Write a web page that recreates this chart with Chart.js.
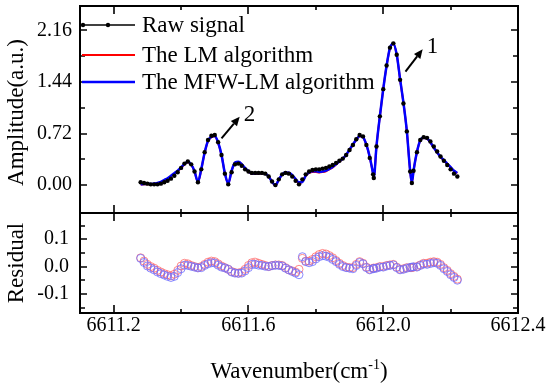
<!DOCTYPE html>
<html><head><meta charset="utf-8">
<script src="https://cdn.jsdelivr.net/npm/chart.js@4/dist/chart.umd.min.js"></script>
<style>
html,body{margin:0;padding:0;background:#fff;}
#wrap{position:relative;width:550px;height:387px;}
canvas{position:absolute;left:0;top:0;}
</style>
</head><body>
<div id="wrap"><canvas id="topChart" width="550" height="387"></canvas><canvas id="botChart" width="550" height="387"></canvas></div>
<script>
const wavenumber = [6611.28,6611.29,6611.30,6611.31,6611.32,6611.33,6611.34,6611.35,6611.36,6611.37,
6611.38,6611.39,6611.40,6611.41,6611.42,6611.43,6611.44,6611.45,6611.46,6611.47,
6611.48,6611.49,6611.50,6611.51,6611.52,6611.53,6611.54,6611.55,6611.56,6611.57,
6611.58,6611.59,6611.60,6611.61,6611.62,6611.63,6611.64,6611.65,6611.66,6611.67,
6611.68,6611.69,6611.70,6611.71,6611.72,6611.73,6611.74,6611.75,6611.76,6611.77,
6611.78,6611.79,6611.80,6611.81,6611.82,6611.83,6611.84,6611.85,6611.86,6611.87,
6611.88,6611.89,6611.90,6611.91,6611.92,6611.93,6611.94,6611.95,6611.96,6611.97,
6611.972,6611.98,6611.99,6612.00,6612.01,6612.02,6612.03,6612.04,6612.05,6612.06,
6612.07,6612.08,6612.085,6612.09,6612.10,6612.11,6612.12,6612.13,6612.14,6612.15,
6612.16,6612.17,6612.18,6612.19,6612.20,6612.21,6612.22];

const rawSignal = [0.04,0.03,0.02,0.01,0.01,0.01,0.02,0.04,0.06,0.09,
0.13,0.18,0.24,0.30,0.33,0.29,0.19,0.04,0.22,0.46,
0.63,0.69,0.70,0.60,0.42,0.16,0.01,0.18,0.29,0.30,
0.27,0.22,0.19,0.17,0.17,0.17,0.17,0.16,0.12,0.05,
0.00,0.08,0.15,0.17,0.16,0.12,0.06,0.01,0.08,0.15,
0.19,0.21,0.22,0.22,0.23,0.24,0.26,0.28,0.31,0.34,
0.37,0.42,0.49,0.56,0.64,0.70,0.68,0.56,0.38,0.15,
0.10,0.54,0.96,1.34,1.67,1.92,1.98,1.82,1.47,1.14,
0.75,0.19,0.03,0.20,0.46,0.63,0.67,0.66,0.61,0.54,
0.47,0.40,0.34,0.28,0.22,0.16,0.12];

const lmFit = [0.008,0.010,0.012,0.010,0.016,0.024,0.040,0.066,0.090,0.124,
0.158,0.194,0.238,0.288,0.320,0.286,0.190,0.044,0.220,0.452,
0.614,0.670,0.682,0.590,0.418,0.164,0.020,0.198,0.312,0.324,
0.290,0.230,0.186,0.156,0.154,0.158,0.162,0.156,0.120,0.046,
-0.006,0.074,0.146,0.174,0.172,0.136,0.080,0.020,0.050,0.130,
0.170,0.184,0.184,0.176,0.182,0.194,0.220,0.248,0.288,0.328,
0.366,0.422,0.494,0.564,0.632,0.682,0.668,0.562,0.390,0.156,
0.106,0.544,0.960,1.340,1.666,1.914,1.972,1.822,1.480,1.148,
0.754,0.194,0.034,0.202,0.460,0.624,0.658,0.648,0.594,0.522,
0.454,0.392,0.344,0.294,0.246,0.196,0.166];

const mfwLmFit = [0.010,0.015,0.018,0.016,0.022,0.030,0.046,0.071,0.096,0.130,
0.166,0.202,0.248,0.295,0.326,0.289,0.192,0.045,0.224,0.456,
0.620,0.676,0.687,0.595,0.422,0.165,0.020,0.200,0.314,0.325,
0.294,0.236,0.194,0.162,0.162,0.165,0.166,0.159,0.120,0.047,
-0.005,0.076,0.148,0.176,0.172,0.138,0.084,0.040,0.044,0.132,
0.176,0.192,0.192,0.184,0.190,0.202,0.226,0.254,0.292,0.332,
0.370,0.424,0.496,0.568,0.636,0.685,0.670,0.564,0.392,0.158,
0.107,0.546,0.962,1.342,1.668,1.916,1.974,1.824,1.482,1.150,
0.756,0.193,0.032,0.201,0.462,0.626,0.661,0.652,0.599,0.526,
0.458,0.396,0.348,0.298,0.250,0.200,0.170];

const lmResidual = [0.032,0.020,0.008,0.000,-0.006,-0.014,-0.020,-0.026,-0.030,-0.034,
-0.028,-0.014,0.002,0.012,0.010,0.004,0.000,-0.004,0.000,0.008,
0.016,0.020,0.018,0.010,0.002,-0.004,-0.010,-0.018,-0.022,-0.024,
-0.020,-0.010,0.004,0.014,0.016,0.012,0.008,0.004,0.000,0.004,
0.006,0.006,0.004,-0.004,-0.012,-0.016,-0.020,-0.010,0.030,0.020,
0.020,0.026,0.036,0.044,0.048,0.046,0.040,0.032,0.022,0.012,
0.004,-0.002,-0.004,-0.004,0.008,0.018,0.012,-0.002,-0.010,-0.006,
-0.006,-0.004,0.000,0.000,0.004,0.006,0.008,-0.002,-0.010,-0.008,
-0.004,-0.004,-0.004,-0.002,0.000,0.006,0.012,0.012,0.016,0.018,
0.016,0.008,-0.004,-0.014,-0.026,-0.036,-0.046];

const mfwLmResidual = [0.030,0.015,0.002,-0.006,-0.012,-0.020,-0.026,-0.031,-0.036,-0.040,
-0.036,-0.022,-0.008,0.005,0.004,0.001,-0.002,-0.005,-0.004,0.004,
0.010,0.014,0.013,0.005,-0.002,-0.005,-0.010,-0.020,-0.024,-0.025,
-0.024,-0.016,-0.004,0.008,0.008,0.005,0.004,0.001,0.000,0.003,
0.005,0.004,0.002,-0.006,-0.012,-0.018,-0.024,-0.030,0.036,0.018,
0.014,0.018,0.028,0.036,0.040,0.038,0.034,0.026,0.018,0.008,
0.000,-0.004,-0.006,-0.008,0.004,0.015,0.010,-0.004,-0.012,-0.008,
-0.007,-0.006,-0.002,-0.002,0.002,0.004,0.006,-0.004,-0.012,-0.010,
-0.006,-0.003,-0.002,-0.001,-0.002,0.004,0.009,0.008,0.011,0.014,
0.012,0.004,-0.008,-0.018,-0.030,-0.040,-0.050];

const amplitudeTicks = [0, 0.72, 1.44, 2.16];
const amplitudeMinorTicks = [0.36, 1.08, 1.80];
const wavenumberTicks = [6611.2, 6611.6, 6612.0, 6612.4];
const wavenumberMinorTicks = [6611.4, 6611.8, 6612.2];
const residualTicks = [-0.1, 0, 0.1];
const residualMinorTicks = [-0.15, -0.05, 0.05, 0.15];
const seriesNames = ['Raw signal', 'The LM algorithm', 'The MFW-LM algorithm'];
const peakLabels = ['1', '2'];
const peakArrowFrom = [[6612.066, 1.584], [6611.520, 0.653]];
const peakArrowTo = [[6612.117, 1.897], [6611.574, 0.955]];

const FONT = '"Liberation Serif", "Times New Roman", serif';
const TITLE_SIZE = 23;
const toXY = ys => wavenumber.map((x, i) => ({x: x, y: ys[i]}));

function frameTicks(xMaj, xMin, yMaj, yMin) {
  return {
    id: 'frameTicks',
    afterDraw(chart) {
      const {ctx, chartArea: a} = chart;
      const xs = chart.scales.x, ys = chart.scales.y;
      ctx.save();
      ctx.strokeStyle = '#000';
      ctx.lineWidth = 1.6;
      ctx.beginPath();
      const xt = (arr, len) => arr.forEach(v => {
        const p = Math.round(xs.getPixelForValue(v));
        if (p <= a.left + 1 || p >= a.right - 1) return;
        ctx.moveTo(p, a.bottom); ctx.lineTo(p, a.bottom - len);
        ctx.moveTo(p, a.top); ctx.lineTo(p, a.top + len);
      });
      const yt = (arr, len) => arr.forEach(v => {
        const p = Math.round(ys.getPixelForValue(v));
        if (p <= a.top + 1 || p >= a.bottom - 1) return;
        ctx.moveTo(a.left, p); ctx.lineTo(a.left + len, p);
        ctx.moveTo(a.right, p); ctx.lineTo(a.right - len, p);
      });
      xt(xMaj, 8); xt(xMin, 4); yt(yMaj, 7); yt(yMin, 5);
      ctx.stroke();
      ctx.lineWidth = 2;
      ctx.strokeRect(a.left, a.top, a.right - a.left, a.bottom - a.top);
      ctx.restore();
    }
  };
}

const topDecor = {
  id: 'topDecor',
  afterDraw(chart) {
    const {ctx, chartArea: a} = chart;
    const xs = chart.scales.x, ys = chart.scales.y;
    ctx.save();
    ctx.font = TITLE_SIZE + 'px ' + FONT;
    ctx.fillStyle = '#000';
    ctx.textAlign = 'center';
    ctx.textBaseline = 'middle';
    ctx.translate(17, (a.top + a.bottom) / 2 + 3);
    ctx.rotate(-Math.PI / 2);
    ctx.fillText('Amplitude(a.u.)', 0, 0);
    ctx.restore();

    // legend: raw, LM, MFW-LM
    ctx.save();
    const ds = chart.data.datasets;
    const order = [0, 2, 1];
    const rowY = [25, 55, 82];
    ctx.font = TITLE_SIZE + 'px ' + FONT;
    ctx.textBaseline = 'middle';
    ctx.textAlign = 'left';
    order.forEach((di, r) => {
      const d = ds[di];
      const y = rowY[r];
      ctx.strokeStyle = d.borderColor;
      ctx.lineWidth = d.legendLineWidth;
      ctx.beginPath(); ctx.moveTo(a.left + 2, y); ctx.lineTo(a.left + 55, y); ctx.stroke();
      if (d.pointRadius > 0) {
        ctx.fillStyle = d.pointBackgroundColor;
        [a.left + 3, a.left + 28].forEach(px => { ctx.beginPath(); ctx.arc(px, y, d.pointRadius, 0, Math.PI * 2); ctx.fill(); });
      }
      ctx.fillStyle = '#000';
      ctx.fillText(d.label, a.left + 62, y + 1);
    });
    ctx.restore();

    // peak arrows
    ctx.save();
    ctx.strokeStyle = '#000'; ctx.fillStyle = '#000'; ctx.lineWidth = 2;
    ctx.font = TITLE_SIZE + 'px ' + FONT;
    peakLabels.forEach((lab, i) => {
      const x0 = xs.getPixelForValue(peakArrowFrom[i][0]), y0 = ys.getPixelForValue(peakArrowFrom[i][1]);
      const x1 = xs.getPixelForValue(peakArrowTo[i][0]), y1 = ys.getPixelForValue(peakArrowTo[i][1]);
      const ang = Math.atan2(y1 - y0, x1 - x0);
      const hl = 9, hw = 4;
      const bx = x1 - hl * Math.cos(ang), by = y1 - hl * Math.sin(ang);
      ctx.beginPath(); ctx.moveTo(x0, y0); ctx.lineTo(bx, by); ctx.stroke();
      ctx.beginPath();
      ctx.moveTo(x1, y1);
      ctx.lineTo(bx + hw * Math.sin(ang), by - hw * Math.cos(ang));
      ctx.lineTo(bx - hw * Math.sin(ang), by + hw * Math.cos(ang));
      ctx.closePath(); ctx.fill();
      ctx.textAlign = 'left'; ctx.textBaseline = 'alphabetic';
      ctx.fillText(lab, x1 + 4, y1 + 4);
    });
    ctx.restore();
  }
};

const botDecor = {
  id: 'botDecor',
  afterDraw(chart) {
    const {ctx, chartArea: a} = chart;
    ctx.save();
    ctx.fillStyle = '#000';
    ctx.font = TITLE_SIZE + 'px ' + FONT;
    ctx.textAlign = 'center';
    ctx.textBaseline = 'middle';
    ctx.save();
    ctx.translate(17, (a.top + a.bottom) / 2);
    ctx.rotate(-Math.PI / 2);
    ctx.fillText('Residual', 0, 0);
    ctx.restore();
    const main = 'Wavenumber(cm', sup = '-1', end = ')';
    ctx.textAlign = 'left'; ctx.textBaseline = 'alphabetic';
    ctx.font = TITLE_SIZE + 'px ' + FONT; const w1 = ctx.measureText(main).width, w3 = ctx.measureText(end).width;
    ctx.font = '14px ' + FONT; const w2 = ctx.measureText(sup).width;
    const cx = (a.left + a.right) / 2; let x = cx - (w1 + w2 + w3) / 2; const by = 378;
    ctx.font = TITLE_SIZE + 'px ' + FONT; ctx.fillText(main, x, by); x += w1;
    ctx.font = '14px ' + FONT; ctx.fillText(sup, x, by - 9); x += w2;
    ctx.font = TITLE_SIZE + 'px ' + FONT; ctx.fillText(end, x, by);
    ctx.restore();
  }
};

const tickFont = {family: FONT, size: 20};
const noPad = s => { s.paddingTop = 0; s.paddingBottom = 0; s.paddingLeft = 0; s.paddingRight = 0; };

new Chart(document.getElementById('topChart'), {
  type: 'line',
  data: {
    datasets: [
      {label: seriesNames[0], data: toXY(rawSignal), showLine: false, borderColor: '#000', legendLineWidth: 1.5, pointRadius: 2.2, pointBackgroundColor: '#000', pointBorderWidth: 0, pointBorderColor: '#000'},
      {label: seriesNames[2], data: toXY(mfwLmFit), borderColor: '#0000ff', borderWidth: 2.5, legendLineWidth: 2.5, pointRadius: 0, cubicInterpolationMode: 'monotone'},
      {label: seriesNames[1], data: toXY(lmFit), borderColor: '#ff0000', borderWidth: 2, legendLineWidth: 2, pointRadius: 0, cubicInterpolationMode: 'monotone'}
    ]
  },
  options: {
    responsive: false, animation: false, events: [],
    layout: {padding: {left: 0, top: 6, right: 32, bottom: 174}},
    plugins: {legend: {display: false}, tooltip: {enabled: false}},
    scales: {
      x: {type: 'linear', min: 6611.1, max: 6612.4,
          grid: {display: false, drawTicks: false}, border: {display: false},
          ticks: {display: false}, afterFit: s => { s.height = 0; noPad(s); }},
      y: {type: 'linear', min: -0.39, max: 2.502,
          grid: {display: false, drawTicks: false}, border: {display: false},
          afterBuildTicks: s => { s.ticks = amplitudeTicks.map(v => ({value: v})); },
          ticks: {font: tickFont, color: '#000', padding: 8, callback: v => Number(v).toFixed(2)},
          afterFit: s => { s.width = 80; noPad(s); }}
    }
  },
  plugins: [frameTicks(wavenumberTicks, wavenumberMinorTicks, amplitudeTicks, amplitudeMinorTicks), topDecor]
});

new Chart(document.getElementById('botChart'), {
  type: 'line',
  data: {
    datasets: [
      {label: seriesNames[2], data: toXY(mfwLmResidual), showLine: false, pointStyle: 'circle', pointRadius: 4, pointBorderWidth: 1, pointBorderColor: 'rgba(110,110,255,0.8)', pointBackgroundColor: 'rgba(255,255,255,0)'},
      {label: seriesNames[1], data: toXY(lmResidual), showLine: false, pointStyle: 'circle', pointRadius: 4, pointBorderWidth: 1, pointBorderColor: 'rgba(255,90,90,0.7)', pointBackgroundColor: 'rgba(255,255,255,0)'}
    ]
  },
  options: {
    responsive: false, animation: false, events: [],
    layout: {padding: {left: 0, top: 213, right: 32, bottom: 0}},
    plugins: {legend: {display: false}, tooltip: {enabled: false}},
    scales: {
      x: {type: 'linear', min: 6611.1, max: 6612.4,
          grid: {display: false, drawTicks: false}, border: {display: false},
          afterBuildTicks: s => { s.ticks = wavenumberTicks.map(v => ({value: v})); },
          ticks: {font: tickFont, color: '#000', padding: 1, maxRotation: 0, autoSkip: false, callback: v => Number(v).toFixed(1)},
          afterFit: s => { s.height = 74; noPad(s); }},
      y: {type: 'linear', min: -0.17, max: 0.196,
          grid: {display: false, drawTicks: false}, border: {display: false},
          afterBuildTicks: s => { s.ticks = residualTicks.map(v => ({value: v})); },
          ticks: {font: tickFont, color: '#000', padding: 11, callback: v => Number(v).toFixed(1)},
          afterFit: s => { s.width = 80; noPad(s); }}
    }
  },
  plugins: [frameTicks(wavenumberTicks, wavenumberMinorTicks, residualTicks, residualMinorTicks), botDecor]
});
</script>
</body></html>
